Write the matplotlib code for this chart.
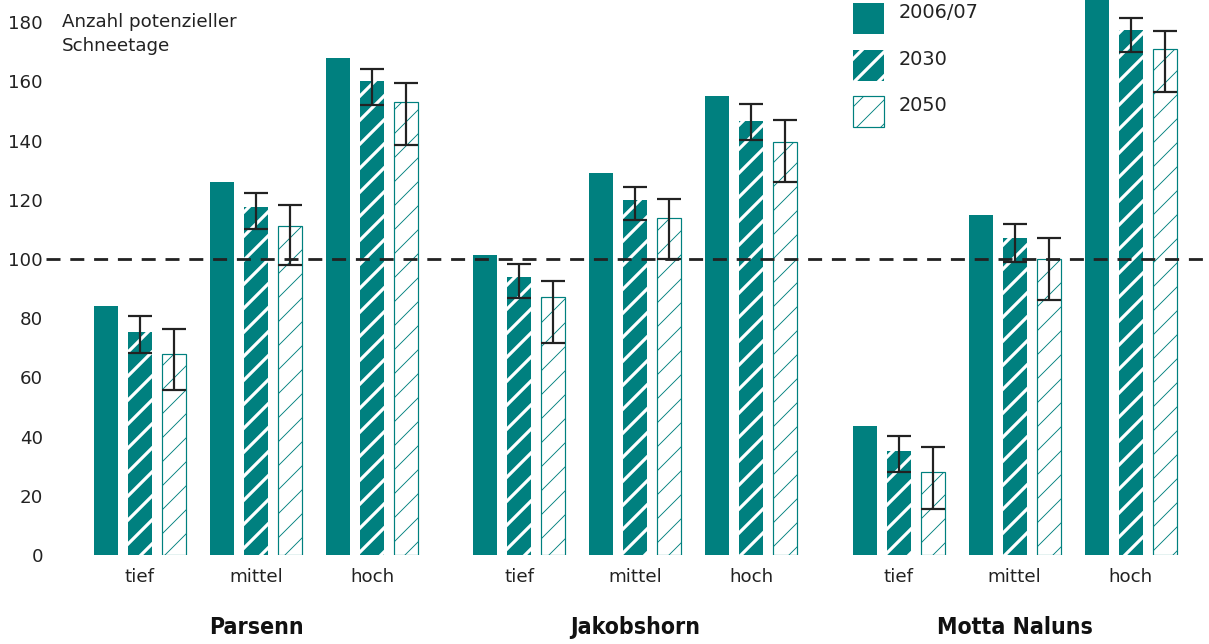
#!/usr/bin/env python3
import matplotlib
matplotlib.use("Agg")
import matplotlib.pyplot as plt
from matplotlib.patches import Rectangle
import numpy as np

# data
sites = ["Parsenn", "Jakobshorn", "Motta Naluns"]
levels = ["tief", "mittel", "hoch"]
series = ["2006/07", "2030", "2050"]

v2006 = [84, 126, 168, 101.5, 129, 155, 43.5, 115, 188]
v2030 = [75.5, 117.5, 160, 94, 120, 146.5, 35, 107, 177.5]
lo2030 = [68.3, 110, 152, 86.7, 113.3, 140.2, 28.1, 99, 170]
hi2030 = [80.7, 122.3, 164.2, 98.4, 124.3, 152.4, 40.3, 111.8, 181.5]
v2050 = [68, 111, 153, 87, 114, 139.5, 28, 100, 171]
lo2050 = [55.6, 98, 138.6, 71.6, 100, 126, 15.4, 86, 156.5]
hi2050 = [76.5, 118.2, 159.6, 92.7, 120.3, 147, 36.4, 107, 177]

yticks = list(range(0, 181, 20))
reference = 100

TEAL = "#00807f"
EDGE = "#5aa9a8"
DARK = "#222222"
W, H, DPI = 1209, 644, 144
FS = 9.1

plt.rcParams["font.family"] = ["DejaVu Sans"]
fig = plt.figure(figsize=(W / DPI, H / DPI), dpi=DPI)
ax = fig.add_axes([46 / W, (H - 555) / H, (W - 46) / W, 555 / H])

site_step = 3.27
offset = 0.293
width = 0.207
centers = np.array([s * site_step + c for s in range(len(sites)) for c in range(len(levels))])

b1 = ax.bar(centers - offset, v2006, width, color=TEAL, linewidth=0, zorder=2)
b2 = ax.bar(centers, v2030, width, facecolor=TEAL, edgecolor="white", linewidth=0,
            hatch="//", zorder=2)
b3 = ax.bar(centers + offset, v2050, width, facecolor="white", edgecolor=TEAL,
            linewidth=0.6, hatch="//", zorder=2)
for p in b2:
    if hasattr(p, "set_hatch_linewidth"):
        p.set_hatch_linewidth(1.6)
for p in b3:
    if hasattr(p, "set_hatch_linewidth"):
        p.set_hatch_linewidth(0.45)

ax.axhline(reference, color=DARK, linewidth=1.4, linestyle=(0, (5, 3.5)), zorder=3)

v2030a, v2050a = np.array(v2030), np.array(v2050)
ax.errorbar(centers, v2030a, yerr=[v2030a - lo2030, np.array(hi2030) - v2030a], fmt="none",
            ecolor=DARK, elinewidth=1.1, capsize=5.8, capthick=1.1, zorder=4)
ax.errorbar(centers + offset, v2050a, yerr=[v2050a - lo2050, np.array(hi2050) - v2050a],
            fmt="none", ecolor=DARK, elinewidth=1.1, capsize=5.8, capthick=1.1, zorder=4)

ax.set_ylim(0, 187.5)
ax.set_xlim(-0.81, 9.216)
ax.set_yticks(yticks)
ax.set_xticks(centers)
ax.set_xticklabels(levels * len(sites))
ax.tick_params(axis="both", length=0, labelsize=FS, colors=DARK)
ax.tick_params(axis="y", pad=1.5)
ax.tick_params(axis="x", pad=6.5)
for s in ax.spines.values():
    s.set_visible(False)

# site names below the level labels
for i, name in enumerate(sites):
    ax.text(i * site_step + 1, -0.13, name, transform=ax.get_xaxis_transform(),
            ha="center", va="center", fontsize=11.5, fontweight="bold",
            fontstretch="condensed", color="#111111")

# axis caption
fig.text(62 / W, 1 - 26.7 / H, "Anzahl potenzieller", fontsize=FS, color=DARK, va="baseline")
fig.text(62 / W, 1 - 50.7 / H, "Schneetage", fontsize=FS, color=DARK, va="baseline")

# legend drawn by hand to match the layout
styles = [dict(facecolor=TEAL, linewidth=0),
          dict(facecolor=TEAL, edgecolor="white", linewidth=0, hatch="//"),
          dict(facecolor="white", edgecolor=TEAL, linewidth=0.6, hatch="//")]
tops = [3, 50, 96]
for lab, st, top, hl in zip(series, styles, tops, [None, 1.6, 0.45]):
    r = Rectangle((853 / W, 1 - (top + 31) / H), 31 / W, 31 / H, transform=fig.transFigure, **st)
    if hl and hasattr(r, "set_hatch_linewidth"):
        r.set_hatch_linewidth(hl)
    fig.add_artist(r)
    fig.text(899 / W, 1 - (top + 15.3) / H, lab, fontsize=9.6, color=DARK, va="baseline")

fig.savefig("out.png", dpi=DPI)
plt.close(fig)
